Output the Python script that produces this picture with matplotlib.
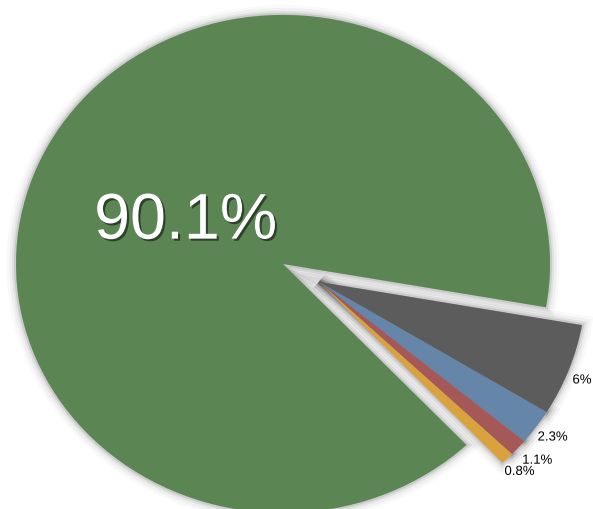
import matplotlib
matplotlib.use("Agg")
import matplotlib.pyplot as plt
import matplotlib.patheffects as pe
import numpy as np

# Data
categories = ["A", "B", "C", "D", "E"]
values = [90.1, 6.0, 2.3, 1.1, 0.8]
labels = ["90.1%", "6%", "2.3%", "1.1%", "0.8%"]
colors = ["#5b8654", "#5c5c5c", "#6585a9", "#a65757", "#d9a23e"]

fig = plt.figure(figsize=(5.93, 5.10), dpi=100)
ax = fig.add_axes([0, 0, 1, 1])

total = sum(values)
start = -10 + 360 * values[0] / total  # green ends at -10 deg going clockwise
offset = (0.135, -0.072)

shadow_fx = [
    pe.Stroke(linewidth=14, foreground="k", alpha=0.025),
    pe.Stroke(linewidth=10, foreground="k", alpha=0.035),
    pe.Stroke(linewidth=6, foreground="k", alpha=0.06),
    pe.Stroke(linewidth=3, foreground="k", alpha=0.10),
]

def draw(center, visible_idx, shadow):
    wedges, _ = ax.pie(values, colors=colors, startangle=start, counterclock=False,
                       center=center, radius=1.0, frame=True,
                       wedgeprops=dict(linewidth=0))
    for i, w in enumerate(wedges):
        if i not in visible_idx:
            w.set_visible(False)
        elif shadow:
            w.set_path_effects(shadow_fx)
            w.set_zorder(0)
        else:
            w.set_zorder(1)
    return wedges

for shadow in (True, False):
    draw((0, 0), [0], shadow)
    draw(offset, [1, 2, 3, 4], shadow)

ax.set_xlim(-1.06, 1.161)
ax.set_ylim(-0.984, 1.064)
ax.set_aspect("auto")
ax.axis("off")

# Labels
ax.text(-0.365, 0.17, labels[0], color="white", fontsize=46.5, family="Liberation Sans",
        ha="center", va="center", zorder=3,
        path_effects=[pe.withSimplePatchShadow(offset=(1.5, -1.5), shadow_rgbFace="k", alpha=0.5)])

small_pos = [(1.120, -0.468), (1.010, -0.697), (0.953, -0.790), (0.886, -0.835)]
for lab, (x, y) in zip(labels[1:], small_pos):
    ax.text(x, y, lab, color="black", fontsize=9.5, family="Liberation Sans",
            ha="center", va="center", zorder=3,
            path_effects=[pe.withStroke(linewidth=2, foreground="white")])

fig.savefig("out.png", dpi=100)
